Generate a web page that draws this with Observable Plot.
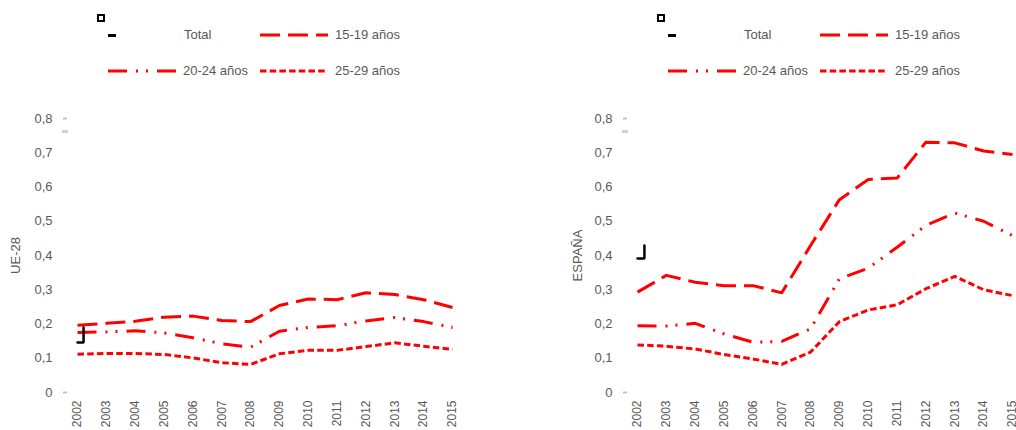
<!DOCTYPE html>
<html>
<head>
<meta charset="utf-8">
<script src="https://cdn.jsdelivr.net/npm/d3@7"></script>
<script src="https://cdn.jsdelivr.net/npm/@observablehq/plot@0.6"></script>
<style>
  html, body { margin: 0; padding: 0; background: #fff; }
  #wrap { position: relative; width: 1016px; height: 430px; display: flex; font-family: "Liberation Sans", Arial, sans-serif; color: #595959; }
  .panel { position: relative; width: 508px; height: 430px; }
  .legend { position: relative; height: 95px; }
  .legend .t { position: absolute; font-size: 13px; line-height: 16px; white-space: nowrap; }
  .legend svg { position: absolute; overflow: visible; }
  .sq { position: absolute; width: 8px; height: 8px; border: 2px solid #000; box-sizing: border-box; }
  .dash { position: absolute; width: 8px; height: 3px; background: #000; }
  .panel > svg:last-child { display: block; }
</style>
</head>
<body>
<div id="wrap">
  <div class="panel" id="p1"></div>
  <div class="panel" id="p2"></div>
</div>
<script>
// ---- data ----
const years = [2002, 2003, 2004, 2005, 2006, 2007, 2008, 2009, 2010, 2011, 2012, 2013, 2014, 2015];
const seriesNames = ["15-19 años", "20-24 años", "25-29 años"];
const yTicks = [0, 0.1, 0.2, 0.3, 0.4, 0.5, 0.6, 0.7, 0.8];

const ue15_19 = [0.196, 0.202, 0.208, 0.220, 0.223, 0.210, 0.207, 0.254, 0.273, 0.271, 0.291, 0.286, 0.271, 0.248];
const ue20_24 = [0.175, 0.177, 0.180, 0.174, 0.160, 0.142, 0.132, 0.179, 0.190, 0.195, 0.209, 0.219, 0.207, 0.190];
const ue25_29 = [0.112, 0.114, 0.114, 0.111, 0.101, 0.087, 0.082, 0.113, 0.123, 0.123, 0.134, 0.145, 0.135, 0.126];

const es15_19 = [0.293, 0.342, 0.322, 0.312, 0.312, 0.291, 0.429, 0.563, 0.622, 0.626, 0.731, 0.729, 0.705, 0.695];
const es20_24 = [0.195, 0.194, 0.202, 0.171, 0.147, 0.149, 0.186, 0.332, 0.363, 0.424, 0.488, 0.524, 0.500, 0.458];
const es25_29 = [0.139, 0.135, 0.127, 0.111, 0.098, 0.082, 0.118, 0.207, 0.241, 0.256, 0.303, 0.339, 0.300, 0.283];

// stray "Total" series stubs (visible remnants in the original)
const ueTotalX = [2002, 2002.21, 2002.21];
const ueTotalY = [0.146, 0.146, 0.19];
const esTotalX = [2002, 2002.24, 2002.24];
const esTotalY = [0.391, 0.391, 0.429];

// small grey axis marks
const greyThinY = [0, 0.8];
const greyThickY = [0.762];

// ---- styles ----
const RED = "#ff0000";
const dashes = { "15-19 años": "20,8", "20-24 años": "19,9,2,8,2,9", "25-29 años": "6.5,3.2" };

function legend(el, off) {
  const L = document.createElement("div");
  L.className = "legend";
  const sample = (x, y, dash) =>
    `<svg style="left:${x + off}px;top:${y - 3}px" width="68" height="6"><line x1="0" x2="68" y1="3" y2="3" stroke="${RED}" stroke-width="3" stroke-dasharray="${dash}"/></svg>`;
  L.innerHTML =
    `<div class="sq" style="left:${97 + off}px;top:14px"></div>` +
    `<div class="dash" style="left:${108 + off}px;top:34px"></div>` +
    `<div class="t" style="left:${184 + off}px;top:27px">Total</div>` +
    sample(260, 35, dashes[seriesNames[0]]) +
    `<div class="t" style="left:${335 + off}px;top:27px">${seriesNames[0]}</div>` +
    sample(108, 71, dashes[seriesNames[1]]) +
    `<div class="t" style="left:${183 + off}px;top:63px">${seriesNames[1]}</div>` +
    sample(260, 71, dashes[seriesNames[2]]) +
    `<div class="t" style="left:${335 + off}px;top:63px">${seriesNames[2]}</div>`;
  el.appendChild(L);
}

function chart(el, o) {
  const rows = [];
  o.values.forEach((vals, s) => vals.forEach((v, i) => rows.push({ year: years[i], value: v, serie: seriesNames[s] })));
  const total = o.totX.map((x, i) => ({ x, y: o.totY[i] }));
  const fmt = d => (d === 0 ? "0" : d.toFixed(1).replace(".", ","));
  const p = Plot.plot({
    width: 508,
    height: 335,
    marginLeft: o.ml,
    marginRight: o.mr,
    marginTop: 23,
    marginBottom: 38,
    x: { type: "linear", domain: [2002, 2015] },
    y: { domain: [0, 0.8] },
    style: { fontFamily: "'Liberation Sans', Arial, sans-serif", fontSize: "13px", color: "#595959", background: "#fff", overflow: "visible" },
    marks: [
      Plot.axisY({ ticks: yTicks, tickFormat: fmt, tickSize: 0, tickPadding: 25, label: null, fontSize: 13 }),
      Plot.axisX({ ticks: years, tickFormat: d => String(d), tickRotate: -90, tickSize: 0, tickPadding: 8, label: null, fontSize: 12 }),
      Plot.text([o.label], { frameAnchor: "left", rotate: -90, dx: o.ldx, lineAnchor: "middle", textAnchor: "middle", fontSize: 13, fill: "#595959" }),
      Plot.ruleY(greyThinY, { y: d => d, x1: 2002, x2: 2002, insetLeft: -14, insetRight: 10, stroke: "#c4c4c4", strokeWidth: 2 }),
      Plot.ruleY(greyThickY, { y: d => d, x1: 2002, x2: 2002, insetLeft: -15, insetRight: 9, stroke: "#d0d0d0", strokeWidth: 3 }),
      ...seriesNames.map(name =>
        Plot.line(rows.filter(r => r.serie === name), {
          x: "year", y: "value", stroke: RED, strokeWidth: 3,
          strokeDasharray: dashes[name], strokeLinecap: "butt", strokeLinejoin: "round", curve: "linear"
        })
      ),
      Plot.line(total, { x: "x", y: "y", stroke: "#000", strokeWidth: 2.5, strokeLinejoin: "miter" })
    ]
  });
  el.appendChild(p);
}

const p1 = document.getElementById("p1");
const p2 = document.getElementById("p2");
legend(p1, 0);
legend(p2, 52);
chart(p1, { values: [ue15_19, ue20_24, ue25_29], totX: ueTotalX, totY: ueTotalY, label: "UE-28", ml: 77, mr: 56, ldx: -62 });
chart(p2, { values: [es15_19, es20_24, es25_29], totX: esTotalX, totY: esTotalY, label: "ESPAÑA", ml: 129, mr: 4, ldx: -60 });
</script>
</body>
</html>
